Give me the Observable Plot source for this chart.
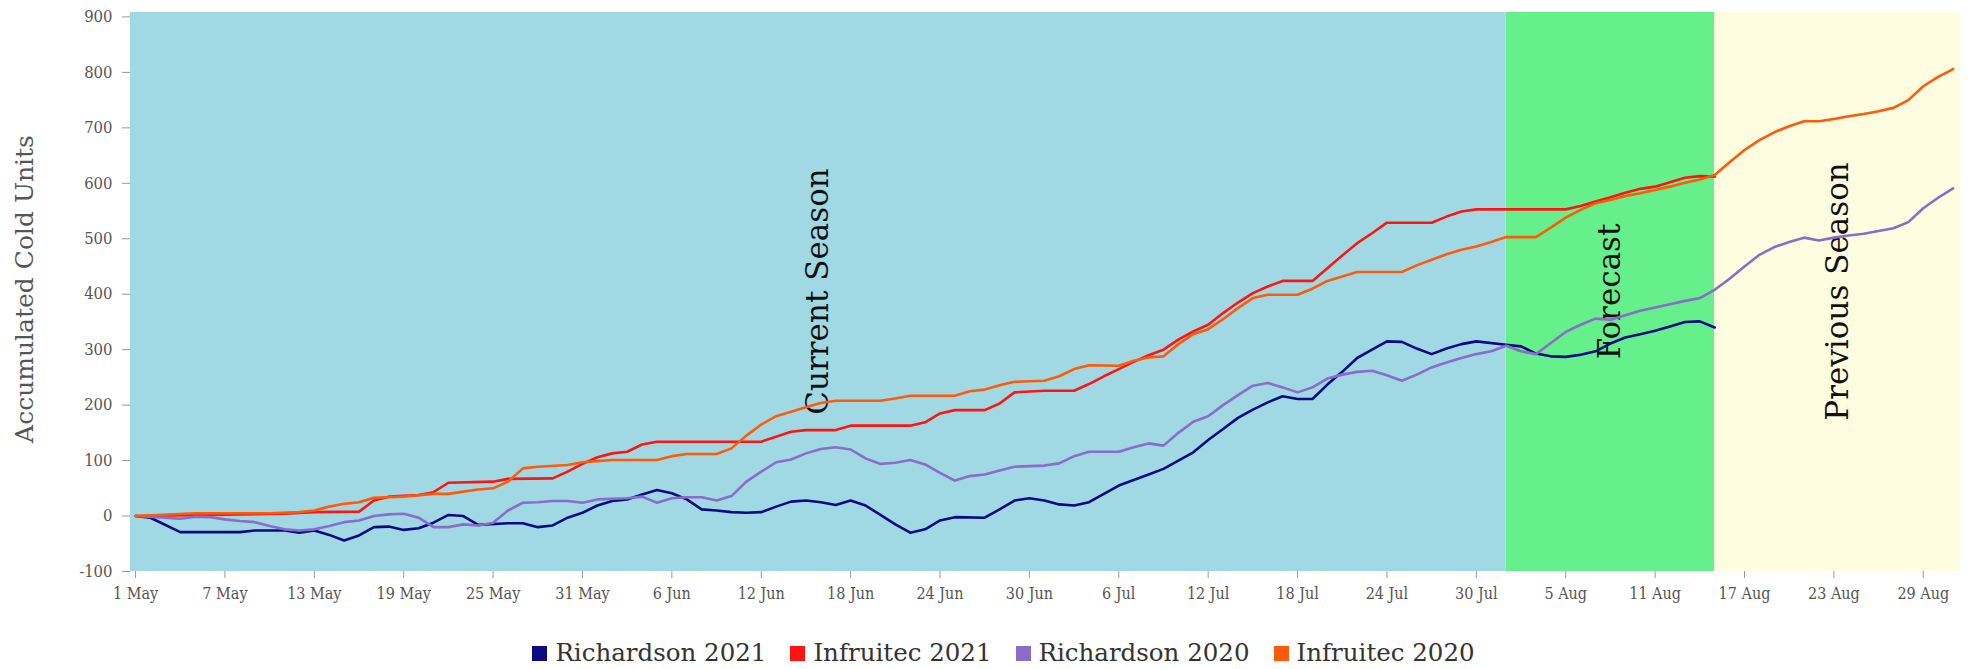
<!DOCTYPE html>
<html>
<head>
<meta charset="utf-8">
<script src="https://cdn.jsdelivr.net/npm/d3@7"></script>
<script src="https://cdn.jsdelivr.net/npm/@observablehq/plot@0.6"></script>
<style>
  html, body { margin: 0; padding: 0; background: #fff; }
  #chart { width: 1977px; }
  .legend { display: flex; justify-content: center; align-items: center; gap: 24px;
    font-family: "DejaVu Serif", serif; font-size: 24.5px; color: #333; margin-top: 19px; line-height: 28px;
    padding-left: 30px; }
  .legend span.item { display: inline-flex; align-items: center; gap: 8px; }
  .legend span.sw { display: inline-block; width: 15px; height: 15px; }
</style>
</head>
<body>
<div id="chart"></div>
<script>
// ---- data (day offsets from 1 May, accumulated cold units) ----
const seasonStartUTC = Date.UTC(2021, 4, 1);

const richardson2021 = [[0,0],[1,-3],[3,-29],[7,-29],[8,-26],[10,-26],[11,-30],[12,-26],[13,-34],[14,-44],[15,-35],[16,-20],[17,-19],[18,-25],[19,-22],[20,-12],[21,2],[22,0],[23,-16],[25,-13],[26,-13],[27,-20],[28,-17],[29,-3],[30,6],[31,19],[32,27],[33,30],[34,39],[35,47],[36,41],[37,30],[38,12],[39,10],[40,7],[41,6],[42,7],[43,17],[44,26],[45,28],[46,25],[47,20],[48,28],[49,19],[50,2],[51,-15],[52,-30],[53,-24],[54,-8],[55,-2],[57,-3],[58,12],[59,28],[60,32],[61,28],[62,21],[63,19],[64,25],[65,40],[66,55],[67,65],[68,75],[69,85],[70,100],[71,115],[72,137],[73,157],[74,177],[75,192],[76,205],[77,216],[78,211],[79,211],[80,237],[81,260],[82,285],[83,300],[84,315],[85,314],[86,302],[87,292],[88,302],[89,310],[90,315],[92,309],[93,306],[94,293],[95,288],[96,287],[97,291],[98,297],[99,311],[100,322],[101,328],[102,334],[103,342],[104,350],[105,351],[106,340]];

const infruitec2021 = [[0,0],[5,2],[10,4],[12,7],[15,8],[16,28],[17,35],[19,38],[20,43],[21,60],[24,62],[25,67],[28,68],[29,80],[30,94],[31,106],[32,113],[33,116],[34,129],[35,134],[42,134],[44,152],[45,155],[47,155],[48,163],[52,163],[53,169],[54,185],[55,191],[57,191],[58,203],[59,223],[61,226],[63,226],[64,238],[65,252],[66,265],[67,278],[68,290],[69,300],[70,318],[71,333],[72,345],[73,366],[74,385],[75,402],[76,414],[77,424],[79,424],[80,447],[81,470],[82,492],[83,510],[84,529],[87,529],[88,540],[89,549],[90,553],[96,553],[97,559],[98,567],[99,575],[100,583],[101,590],[102,594],[103,602],[104,610],[105,613],[106,612]];

const richardson2020 = [[0,0],[2,-3],[3,-5],[4,-1],[5,-2],[6,-6],[7,-9],[8,-11],[9,-18],[10,-24],[11,-26],[12,-24],[13,-18],[14,-11],[15,-8],[16,0],[17,3],[18,4],[19,-3],[20,-20],[21,-20],[22,-15],[23,-17],[24,-12],[25,10],[26,24],[27,25],[28,27],[29,27],[30,24],[31,30],[33,32],[34,35],[35,24],[36,32],[37,34],[38,34],[39,28],[40,36],[41,62],[42,80],[43,97],[44,102],[45,113],[46,121],[47,124],[48,120],[49,104],[50,94],[51,96],[52,101],[53,93],[54,78],[55,64],[56,72],[57,75],[58,82],[59,89],[60,90],[61,91],[62,95],[63,108],[64,116],[66,116],[67,124],[68,131],[69,127],[70,150],[71,170],[72,180],[73,200],[74,218],[75,235],[76,240],[77,232],[78,223],[79,232],[80,248],[81,255],[82,260],[83,262],[84,254],[85,244],[86,255],[87,268],[88,277],[89,285],[90,292],[91,297],[92,307],[93,297],[94,292],[95,312],[96,332],[97,345],[98,356],[99,354],[100,362],[101,370],[102,376],[103,382],[104,388],[105,393],[106,408],[107,428],[108,450],[109,471],[110,485],[111,494],[112,502],[113,497],[114,502],[115,506],[116,509],[117,514],[118,519],[119,530],[120,555],[121,574],[122,591]];

const infruitec2020 = [[0,0],[4,5],[9,5],[11,7],[12,10],[13,17],[14,22],[15,25],[16,33],[18,35],[20,40],[21,40],[22,44],[23,48],[24,50],[25,62],[26,86],[27,89],[29,92],[30,97],[31,99],[32,101],[35,101],[36,108],[37,112],[39,112],[40,122],[41,145],[42,165],[43,180],[44,188],[45,196],[46,204],[47,208],[50,208],[51,212],[52,217],[55,217],[56,225],[57,228],[58,236],[59,242],[61,244],[62,252],[63,265],[64,272],[66,271],[67,280],[68,286],[69,288],[70,310],[71,328],[72,337],[73,355],[74,375],[75,393],[76,399],[78,399],[79,410],[80,424],[81,432],[82,440],[85,440],[86,452],[87,462],[88,472],[89,480],[90,486],[91,494],[92,503],[94,503],[95,520],[96,538],[97,552],[98,564],[99,570],[100,577],[101,582],[102,588],[103,594],[104,601],[105,607],[106,615],[107,638],[108,660],[109,678],[110,692],[111,703],[112,712],[113,712],[114,716],[115,721],[116,725],[117,730],[118,736],[119,750],[120,775],[121,792],[122,806]];

const seriesNames = ["Richardson 2021", "Infruitec 2021", "Richardson 2020", "Infruitec 2020"];
const seriesData = [richardson2021, infruitec2021, richardson2020, infruitec2020];
const seriesColors = ["#0a0a82", "#ff1414", "#8a6cc9", "#ff5a0a"];

// background periods (day offsets)
const bandNames = ["Current Season", "Forecast", "Previous Season"];
const bandStart = [-0.34, 92, 106];
const bandEnd = [92, 106, 122.5];
const bandColors = ["#a0d9e4", "#66f08c", "#fffde0"];

// axis ticks
const xTickDays = [0, 6, 12, 18, 24, 30, 36, 42, 48, 54, 60, 66, 72, 78, 84, 90, 96, 102, 108, 114, 120];
const yTicks = [-100, 0, 100, 200, 300, 400, 500, 600, 700, 800, 900];
const yLabel = "Accumulated Cold Units";

// ---- build ----
const toDate = d => new Date(seasonStartUTC + d * 864e5);
const rows = seriesNames.flatMap((name, i) =>
  seriesData[i].map(([d, v]) => ({series: name, date: toDate(d), value: v})));
const bands = bandNames.map((name, i) => ({
  name, x1: toDate(bandStart[i]), x2: toDate(bandEnd[i]),
  mid: toDate((bandStart[i] + bandEnd[i]) / 2), fill: bandColors[i]
}));

const fmt = d3.utcFormat("%-d %b");

const chart = Plot.plot({
  width: 1977,
  height: 620,
  marginLeft: 130,
  marginRight: 17,
  marginTop: 12,
  marginBottom: 49,
  style: {fontFamily: "'DejaVu Serif Condensed', 'DejaVu Serif', serif", background: "#fff"},
  x: {type: "utc", domain: [toDate(bandStart[0]), toDate(bandEnd[2])]},
  y: {domain: [-100, 908]},
  color: {domain: seriesNames, range: seriesColors},
  marks: [
    Plot.rect(bands, {x1: "x1", x2: "x2", fill: "fill"}),
    Plot.text(bands, {x: "mid", y: 405, text: "name", rotate: -90, fontSize: 31,
      fontFamily: "DejaVu Serif", fill: "#111"}),
    Plot.line(rows, {x: "date", y: "value", z: "series", stroke: "series", strokeWidth: 2.6,
      curve: "linear", strokeLinejoin: "round"}),
    Plot.axisX({ticks: xTickDays.map(toDate), tickFormat: fmt, tickSize: 7, tickPadding: 9,
      fontSize: 16, fill: "#555", stroke: "#999", line: true, label: null}),
    Plot.axisY({ticks: yTicks, tickFormat: d => String(d), tickSize: 8, tickPadding: 10, fontSize: 16.5, fill: "#555",
      stroke: "#999", line: true, label: null}),
    Plot.text([yLabel], {frameAnchor: "left", dx: -106, dy: -3, rotate: -90, textAnchor: "middle",
      fontSize: 25, fontFamily: "DejaVu Serif", fill: "#555", text: d => d})
  ]
});

document.getElementById("chart").appendChild(chart);

const legend = document.createElement("div");
legend.className = "legend";
seriesNames.forEach((name, i) => {
  const item = document.createElement("span");
  item.className = "item";
  const sw = document.createElement("span");
  sw.className = "sw";
  sw.style.background = seriesColors[i];
  item.appendChild(sw);
  item.appendChild(document.createTextNode(name));
  legend.appendChild(item);
});
document.getElementById("chart").appendChild(legend);
</script>
</body>
</html>
